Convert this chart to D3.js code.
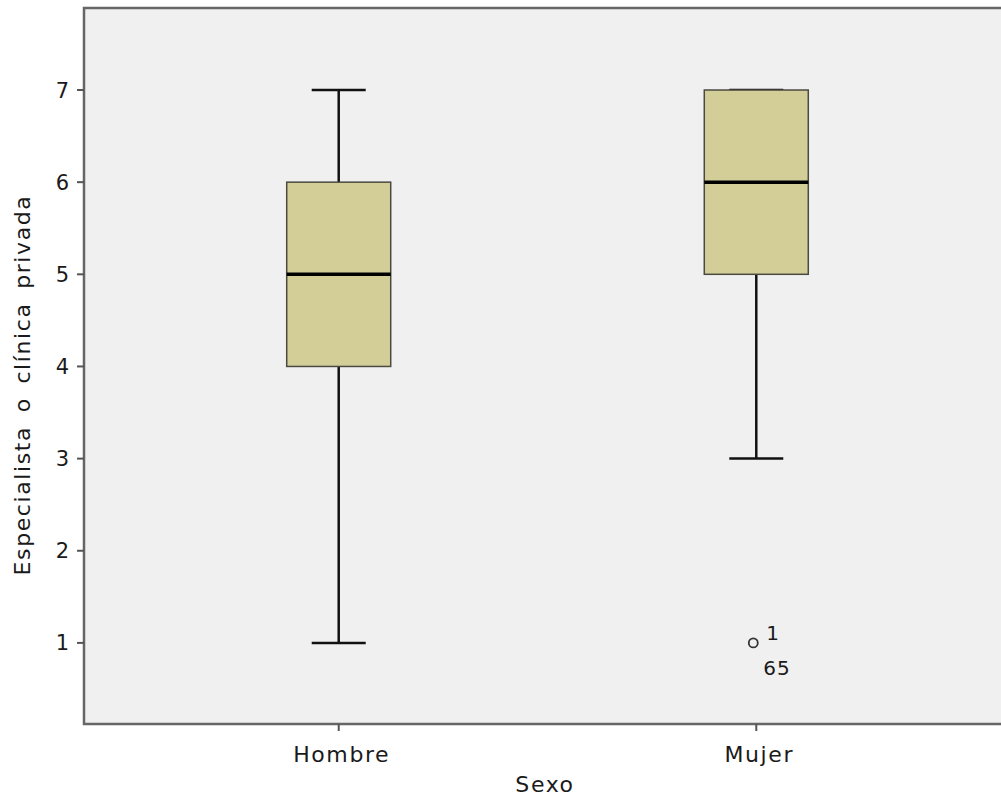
<!DOCTYPE html>
<html>
<head>
<meta charset="utf-8">
<script src="https://cdn.jsdelivr.net/npm/d3@7"></script>
<style>
  body { margin: 0; background: #fff; }
  text { font-family: "DejaVu Sans", Verdana, sans-serif; fill: #1a1a1a; }
</style>
</head>
<body>
<svg id="chart" width="1001" height="798"></svg>
<script>
// Box plot: Especialista o clínica privada by Sexo
var categories = ['Hombre', 'Mujer'];
var lowerWhisker = [1, 3];
var q1 = [4, 5];
var median = [5, 6];
var q3 = [6, 7];
var upperWhisker = [7, 7];
var outliers = [
	{cat: 'Mujer', value: 1, labels: ['1', '65']}
];
var yTicks = [1, 2, 3, 4, 5, 6, 7];

var width = 1001, height = 798;
var margin = {top: 8, left: 84, bottom: 74, right: -10};

var svg = d3.select('#chart');

var x = d3.scalePoint()
	.domain(categories)
	.range([margin.left, width - margin.right])
	.padding(0.61);

var y = d3.scaleLinear()
	.domain([0.12, 7.89])
	.range([height - margin.bottom, margin.top]);

var boxW = 104, capW = 54;

// plot background
svg.append('rect')
	.attr('x', margin.left)
	.attr('y', margin.top)
	.attr('width', width - margin.right - margin.left)
	.attr('height', height - margin.bottom - margin.top)
	.attr('fill', '#f0f0f0')
	.attr('stroke', '#666')
	.attr('stroke-width', 2.5);

// y axis ticks
var yAxis = svg.append('g').attr('class', 'y-axis');
yAxis.selectAll('line').data(yTicks).enter().append('line')
	.attr('x1', margin.left - 7).attr('x2', margin.left)
	.attr('y1', function(d){ return y(d); })
	.attr('y2', function(d){ return y(d); })
	.attr('stroke', '#555').attr('stroke-width', 2);
yAxis.selectAll('text').data(yTicks).enter().append('text')
	.attr('x', margin.left - 15)
	.attr('y', function(d){ return y(d); })
	.attr('dy', '0.36em')
	.attr('text-anchor', 'end')
	.style('font-size', '21px')
	.text(function(d){ return d; });

// x axis ticks
var xAxis = svg.append('g').attr('class', 'x-axis');
xAxis.selectAll('line').data(categories).enter().append('line')
	.attr('x1', function(d){ return x(d); })
	.attr('x2', function(d){ return x(d); })
	.attr('y1', height - margin.bottom)
	.attr('y2', height - margin.bottom + 7)
	.attr('stroke', '#555').attr('stroke-width', 2);
xAxis.selectAll('text').data(categories).enter().append('text')
	.attr('x', function(d){ return x(d) + 3; })
	.attr('y', height - margin.bottom + 38)
	.attr('text-anchor', 'middle')
	.style('font-size', '22px')
	.style('letter-spacing', '1.6px')
	.text(function(d){ return d; });

// axis titles
svg.append('text')
	.attr('x', 545)
	.attr('y', 792)
	.attr('text-anchor', 'middle')
	.style('font-size', '22px')
	.style('letter-spacing', '1.6px')
	.text('Sexo');

svg.append('text')
	.attr('transform', 'translate(30,385) rotate(-90)')
	.attr('text-anchor', 'middle')
	.style('font-size', '22px')
	.style('letter-spacing', '1.6px')
	.style('word-spacing', '5px')
	.text('Especialista o clínica privada');

// boxes
var boxes = svg.append('g').attr('class', 'boxes')
	.selectAll('g').data(categories).enter().append('g');

boxes.append('line')
	.attr('x1', function(d){ return x(d); })
	.attr('x2', function(d){ return x(d); })
	.attr('y1', function(d, i){ return y(lowerWhisker[i]); })
	.attr('y2', function(d, i){ return y(upperWhisker[i]); })
	.attr('stroke', '#111').attr('stroke-width', 2.5);

boxes.selectAll('line.cap')
	.data(function(d, i){ return [lowerWhisker[i], upperWhisker[i]].map(function(v){ return {c: d, v: v}; }); })
	.enter().append('line')
	.attr('class', 'cap')
	.attr('x1', function(d){ return x(d.c) - capW / 2; })
	.attr('x2', function(d){ return x(d.c) + capW / 2; })
	.attr('y1', function(d){ return y(d.v); })
	.attr('y2', function(d){ return y(d.v); })
	.attr('stroke', '#111').attr('stroke-width', 2.5);

boxes.append('rect')
	.attr('x', function(d){ return x(d) - boxW / 2; })
	.attr('y', function(d, i){ return y(q3[i]); })
	.attr('width', boxW)
	.attr('height', function(d, i){ return y(q1[i]) - y(q3[i]); })
	.attr('fill', '#d3ce98')
	.attr('stroke', '#4a4a40')
	.attr('stroke-width', 1.5);

boxes.append('line')
	.attr('x1', function(d){ return x(d) - boxW / 2; })
	.attr('x2', function(d){ return x(d) + boxW / 2; })
	.attr('y1', function(d, i){ return y(median[i]); })
	.attr('y2', function(d, i){ return y(median[i]); })
	.attr('stroke', '#000').attr('stroke-width', 3.5);

// outliers
var out = svg.append('g').attr('class', 'outliers')
	.selectAll('g').data(outliers).enter().append('g');

out.append('circle')
	.attr('cx', function(d){ return x(d.cat) - 3; })
	.attr('cy', function(d){ return y(d.value); })
	.attr('r', 4.5)
	.attr('fill', 'none')
	.attr('stroke', '#333')
	.attr('stroke-width', 1.8);

out.append('text')
	.attr('x', function(d){ return x(d.cat) + 10; })
	.attr('y', function(d){ return y(d.value) - 3; })
	.style('font-size', '20px')
	.text(function(d){ return d.labels[0]; });

out.append('text')
	.attr('x', function(d){ return x(d.cat) + 7; })
	.attr('y', function(d){ return y(d.value) + 32; })
	.style('font-size', '20px')
	.style('letter-spacing', '1px')
	.text(function(d){ return d.labels[1]; });
</script>
</body>
</html>
